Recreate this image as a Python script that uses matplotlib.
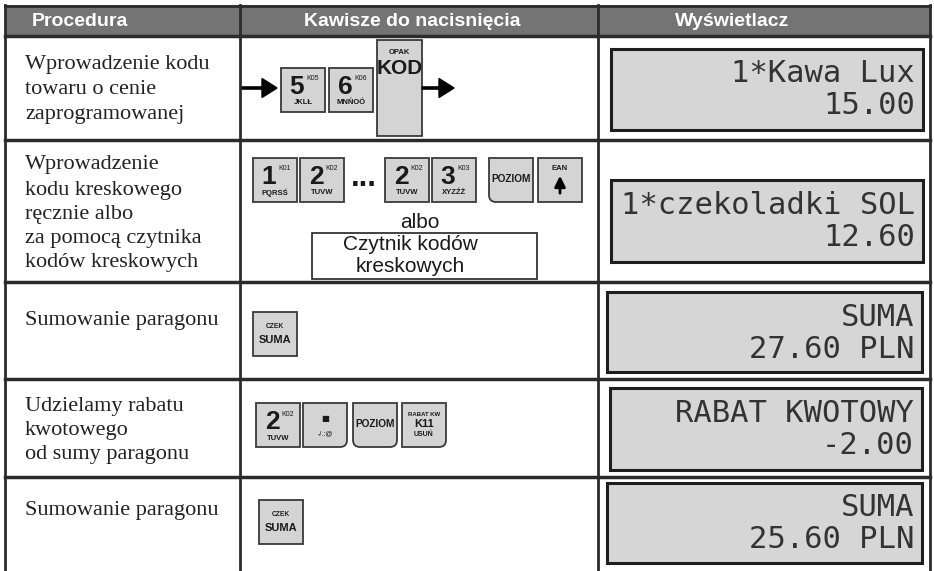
import matplotlib.pyplot as plt
import numpy as np
from matplotlib.patches import Rectangle, PathPatch
from matplotlib.path import Path

# Tekst tabeli
headers = ["Procedura", "Kawisze do nacisnięcia", "Wyświetlacz"]
procedures = [
    ["Wprowadzenie kodu", "towaru o cenie", "zaprogramowanej"],
    ["Wprowadzenie", "kodu kreskowego", "ręcznie albo", "za pomocą czytnika", "kodów kreskowych"],
    ["Sumowanie paragonu"],
    ["Udzielamy rabatu", "kwotowego", "od sumy paragonu"],
    ["Sumowanie paragonu"],
]
display_line1 = ["1*Kawa Lux", "1*czekoladki SOL", "SUMA", "RABAT KWOTOWY", "SUMA"]
display_line2 = ["15.00", "12.60", "27.60 PLN", "-2.00", "25.60 PLN"]
scanner_text = ["Czytnik kodów", "kreskowych"]
or_text = "albo"

# Układ (piksele)
W, H = 934, 571
row_lines = [140, 282, 379, 477]
col_lines = [5, 240, 598, 930]
proc_text_y = [[65, 90, 115], [165, 190, 214, 238, 262], [320], [407, 431, 455], [510]]
disp_boxes = [(611, 49, 312, 81), (611, 180, 312, 82), (607, 292, 315, 80),
              (610, 388, 312, 82), (607, 483, 315, 80)]
header_x = [80, 412, 732]

fig = plt.figure(figsize=(W / 100, H / 100), dpi=100)
ax = fig.add_axes([0, 0, 1, 1])
ax.set_xlim(0, W)
ax.set_ylim(H, 0)
ax.axis('off')

LINE = '#2b2b2b'
KEY_FC = '#d4d4d4'
KEY_EC = '#3a3a3a'
SANS = 'Liberation Sans'


def key_path(x, y, w, h, rounded=(), r=7):
    pts = {'tr': (x + w, y), 'br': (x + w, y + h), 'bl': (x, y + h), 'tl': (x, y)}
    order = ['tr', 'br', 'bl', 'tl']
    start = (x + w / 2, y)
    verts, codes = [start], [Path.MOVETO]
    prev = start
    for i, name in enumerate(order):
        c = np.array(pts[name], float)
        nxt = np.array(pts[order[(i + 1) % 4]] if i < 3 else start, float)
        din = (c - np.array(prev)) / np.linalg.norm(c - np.array(prev))
        dout = (nxt - c) / np.linalg.norm(nxt - c)
        if name in rounded:
            verts += [tuple(c - din * r), tuple(c), tuple(c + dout * r)]
            codes += [Path.LINETO, Path.CURVE3, Path.CURVE3]
        else:
            verts.append(tuple(c))
            codes.append(Path.LINETO)
        prev = tuple(c)
    verts += [start, start]
    codes += [Path.LINETO, Path.CLOSEPOLY]
    return Path(verts, codes)


def draw_key(x, y, w=44, h=44, rounded=()):
    ax.add_patch(PathPatch(key_path(x, y, w, h, rounded), fc=KEY_FC, ec=KEY_EC, lw=1.3, zorder=3))


def t(x, y, s, size, bold=False, color='#1a1a1a', ha='center', va='center', family=SANS):
    ax.text(x, y, s, fontsize=size, fontweight='bold' if bold else 'normal', color=color,
            ha=ha, va=va, family=family, zorder=4)


def digit_key(x, y, digit, code, letters):
    draw_key(x, y)
    t(x + 16, y + 19, digit, 19, bold=True)
    t(x + 32, y + 11, code, 5)
    t(x + 22, y + 35, letters, 5.5, bold=True)


def suma_key(x, y):
    draw_key(x, y)
    t(x + 22, y + 14, "CZEK", 4.8, bold=True)
    t(x + 22, y + 28, "SUMA", 8, bold=True)


def poziom_key(x, y, rounded):
    draw_key(x, y, rounded=rounded)
    t(x + 22, y + 21, "POZIOM", 7.3, bold=True)


# Nagłówek
ax.add_patch(Rectangle((5, 5), 925, 31, fc='#747474', ec='none', zorder=1))
ax.plot([5, 930], [5.5, 5.5], color=LINE, lw=2, zorder=2)
ax.plot([5, 930], [36, 36], color=LINE, lw=2.5, zorder=2)
for hx, label in zip(header_x, headers):
    t(hx, 21, label, 14, bold=True, color='white')

# Siatka
for ry in row_lines:
    ax.plot([5, 930], [ry, ry], color=LINE, lw=2.5, zorder=2)
for cx in col_lines:
    ax.plot([cx, cx], [5, H], color=LINE, lw=2, zorder=2)

# Kolumna procedur
for lines, ys in zip(procedures, proc_text_y):
    for s, yy in zip(lines, ys):
        t(25, yy, s, 16, ha='left', color='#222222', family='Liberation Serif')

# Wyświetlacze
for (bx, by, bw, bh), l1, l2 in zip(disp_boxes, display_line1, display_line2):
    ax.add_patch(Rectangle((bx, by), bw, bh, fc='#d6d6d6', ec='#1e1e1e', lw=2.2, zorder=3))
    t(bx + bw - 8, by + 25, l1, 22, ha='right', color='#333333', family='DejaVu Sans Mono')
    t(bx + bw - 8, by + 57, l2, 22, ha='right', color='#333333', family='DejaVu Sans Mono')

# Wiersz 1
arrow_kw = dict(width=2.2, head_width=19, head_length=15, length_includes_head=True,
                fc='black', ec='black', zorder=4)
ax.arrow(242, 88, 35, 0, **arrow_kw)
digit_key(281, 68, "5", "K05", "JKLŁ")
digit_key(329, 68, "6", "K06", "MNŃOÓ")
draw_key(377, 40, w=45, h=96)
t(399.5, 53, "OPAK", 5.5, bold=True)
t(399.5, 68, "KOD", 15, bold=True)
ax.arrow(422, 88, 32, 0, **arrow_kw)

# Wiersz 2
digit_key(253, 158, "1", "K01", "PQRSŚ")
digit_key(300, 158, "2", "K02", "TUVW")
t(364, 186, "...", 22, bold=True, va='baseline')
digit_key(385, 158, "2", "K02", "TUVW")
digit_key(432, 158, "3", "K03", "XYZŹŻ")
poziom_key(489, 158, rounded=('bl',))
draw_key(538, 158)
t(560, 168, "EAN", 5.5, bold=True)
ax.annotate("", xy=(560, 173), xytext=(560, 196),
            arrowprops=dict(arrowstyle='-|>', color='black', lw=2, mutation_scale=16), zorder=5)
t(420, 222, or_text, 15)
ax.add_patch(Rectangle((312, 233), 225, 46, fc='white', ec='#222222', lw=1.2, zorder=3))
t(410, 245, scanner_text[0], 15)
t(410, 266, scanner_text[1], 15)

# Wiersz 3
suma_key(253, 312)

# Wiersz 4
digit_key(256, 403, "2", "K02", "TUVW")
draw_key(303, 403, rounded=('br',))
t(325, 419, "■", 6, family='DejaVu Sans')
t(325, 434, "-/.:@", 5)
poziom_key(353, 403, rounded=('bl', 'br'))
draw_key(402, 403, rounded=('br',))
t(424, 414, "RABAT KW", 4.3, bold=True)
t(424, 424, "K11", 8, bold=True)
t(424, 434, "USUŃ", 5, bold=True)

# Wiersz 5
suma_key(259, 500)

fig.savefig("out.png", dpi=100)
